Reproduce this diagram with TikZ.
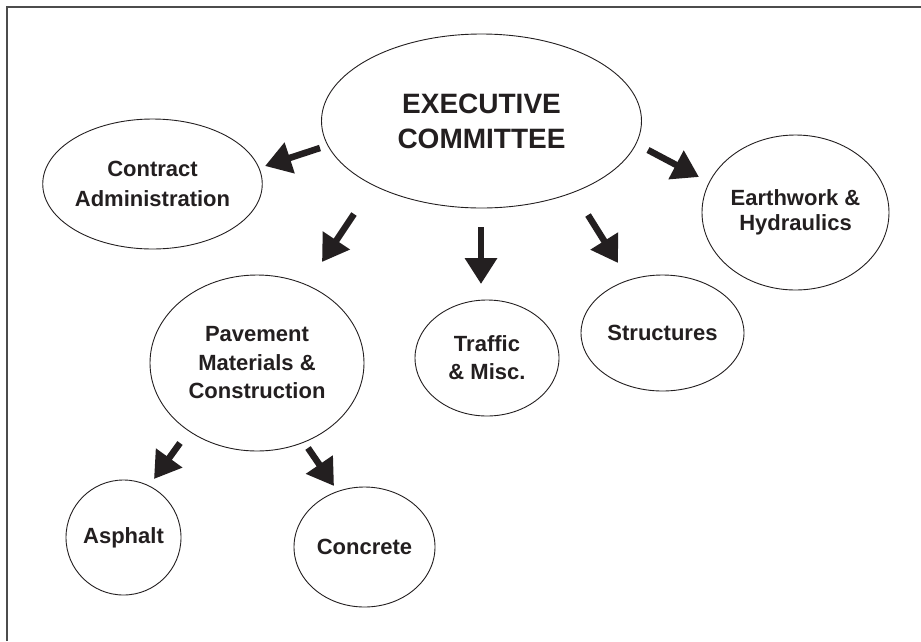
\documentclass[tikz,border=0pt]{standalone}
\usepackage{fontspec}
\setmainfont{Liberation Sans}
\usetikzlibrary{shapes.geometric,arrows.meta}
\definecolor{ink}{HTML}{231F20}
\begin{document}
\begin{tikzpicture}[x=1pt,y=-1pt,
  bub/.style={draw=ink, line width=0.9pt, ellipse, inner sep=0pt, align=center, text=ink,
    font=\bfseries\fontsize{22}{28}\selectfont},
  arr/.style={draw=ink, line width=6.5pt, -{Triangle[length=26pt,width=31pt]}}]
\useasboundingbox (0,0) rectangle (921,641);
\draw[line width=1.3pt, color=black!70] (7,641) -- (7,7) -- (921,7);

\node[bub, minimum width=320pt, minimum height=174pt, font=\bfseries\fontsize{28}{35}\selectfont] (exec) at (481.5,121) {EXECUTIVE\\COMMITTEE};
\node[bub, minimum width=211pt, minimum height=130pt, font=\bfseries\fontsize{22}{30}\selectfont] (contract) at (152.5,184) {Contract\\Administration};
\node[bub, minimum width=187pt, minimum height=155pt, font=\bfseries\fontsize{22}{25}\selectfont] (earth) at (795.5,212.5) {Earthwork \&\\Hydraulics};
\node[bub, minimum width=214pt, minimum height=176pt, font=\bfseries\fontsize{22}{28.5}\selectfont] (pave) at (257,363) {Pavement\\Materials \&\\Construction};
\node[bub, minimum width=144pt, minimum height=116pt] (traffic) at (487,358) {Traffic\\\& Misc.};
\node[bub, minimum width=163pt, minimum height=116pt] (struct) at (662.5,333) {Structures};
\node[bub, minimum width=115pt, minimum height=115pt] (asphalt) at (123.5,537.5) {Asphalt};
\node[bub, minimum width=141pt, minimum height=120pt] (concrete) at (364.5,547) {Concrete};

\coordinate (s1) at (320,148); \coordinate (e1) at (265,166);
\coordinate (s2) at (354,214); \coordinate (e2) at (322,262);
\coordinate (s3) at (481,227); \coordinate (e3) at (481,284);
\coordinate (s4) at (588,215); \coordinate (e4) at (618,263);
\coordinate (s5) at (648,150); \coordinate (e5) at (699,177);
\coordinate (s6) at (180,443); \coordinate (e6) at (154,479);
\coordinate (s7) at (308,448); \coordinate (e7) at (334,486);

\draw[arr] (s1) -- (e1);
\draw[arr] (s2) -- (e2);
\draw[arr] (s3) -- (e3);
\draw[arr] (s4) -- (e4);
\draw[arr] (s5) -- (e5);
\draw[arr] (s6) -- (e6);
\draw[arr] (s7) -- (e7);
\end{tikzpicture}
\end{document}
